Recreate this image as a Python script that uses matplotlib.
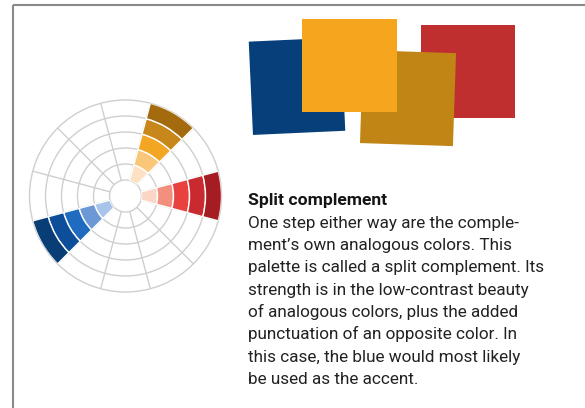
import numpy as np
import matplotlib
matplotlib.use("Agg")
import matplotlib.pyplot as plt
from matplotlib.patches import Rectangle

# colour wheel: 12 hue steps, three of them filled (orange, red, blue)
hue_angles = [60, 0, 210]
ring_edges = [16, 32, 48, 64, 80, 96]
shades = [
    ["#fde1c2", "#f9c67a", "#f3a623", "#c8871b", "#a36b0d"],   # orange
    ["#fbd5c6", "#f3907d", "#e94040", "#c92a2f", "#a51c22"],   # red
    ["#a8c4ea", "#6c98d6", "#1f6bbf", "#0d4e9a", "#083d76"],   # blue
]

# palette swatches (back to front)
swatch_colors = ["#bf2f2f", "#063f79", "#c18516", "#f6a61e"]

title = "Split complement"
body = [
    "One step either way are the comple-",
    "ment\u2019s own analogous colors. This",
    "palette is called a split complement. Its",
    "strength is in the low-contrast beauty",
    "of analogous colors, plus the added",
    "punctuation of an opposite color. In",
    "this case, the blue would most likely",
    "be used as the accent.",
]

W, H = 585, 408
fig = plt.figure(figsize=(W / 100, H / 100), dpi=100)

# overlay in pixel coordinates
ax = fig.add_axes([0, 0, 1, 1])
ax.set_xlim(0, W)
ax.set_ylim(H, 0)
ax.axis("off")
ax.set_facecolor("none")

# frame lines (top and left only)
ax.plot([12.5, W], [4.5, 4.5], color="#8a8a8a", lw=1.5, solid_capstyle="butt")
ax.plot([12.5, 12.5], [4.5, H], color="#8a8a8a", lw=1.5, solid_capstyle="butt")

# swatches: centre x, centre y, w, h, visual rotation (deg, + = clockwise on screen)
swatch_geom = [
    (468, 71.7, 94, 93.3, 0.0),
    (297, 86.2, 92.4, 93.4, -2.6),
    (408, 98.1, 93, 93, 1.9),
    (349.5, 65.3, 94.4, 92.7, 0.0),
]
for (cx, cy, w, h, rot), c in zip(swatch_geom, swatch_colors):
    ax.add_patch(Rectangle((cx - w / 2, cy - h / 2), w, h, angle=rot,
                           rotation_point="center", facecolor=c,
                           edgecolor="none"))

# text block
font = "Roboto"
step = 22.3
ax.text(248, 205.5, title, fontsize=12.6, fontweight="bold", family=font,
        ha="left", va="baseline", color="#151515")
for i, line in enumerate(body):
    ax.text(248, 205.5 + (i + 1) * step, line, fontsize=12.3, family=font,
            ha="left", va="baseline", color="#222222")

# colour wheel on polar axes
cx, cy, R = 125.5, 196, 96
pax = fig.add_axes([(cx - R) / W, (H - cy - R) / H, 2 * R / W, 2 * R / H],
                   projection="polar")
pax.set_facecolor("none")
pax.set_rorigin(0)
pax.set_ylim(ring_edges[0], ring_edges[-1])
pax.set_rticks(ring_edges[1:-1])
pax.set_xticks(np.deg2rad(np.arange(15, 360, 30)))
pax.set_xticklabels([])
pax.set_yticklabels([])
pax.tick_params(length=0)
pax.grid(True, color="#cfcfcf", lw=1)
for s in pax.spines.values():
    s.set_color("#cfcfcf")
    s.set_linewidth(1)
pax.set_axisbelow(True)

for ang, cols in zip(hue_angles, shades):
    for i, c in enumerate(cols):
        pax.bar(np.deg2rad(ang), ring_edges[i + 1] - ring_edges[i],
                width=np.deg2rad(30), bottom=ring_edges[i], color=c,
                edgecolor="white", linewidth=1, zorder=3)

fig.savefig("out.png", dpi=100)
